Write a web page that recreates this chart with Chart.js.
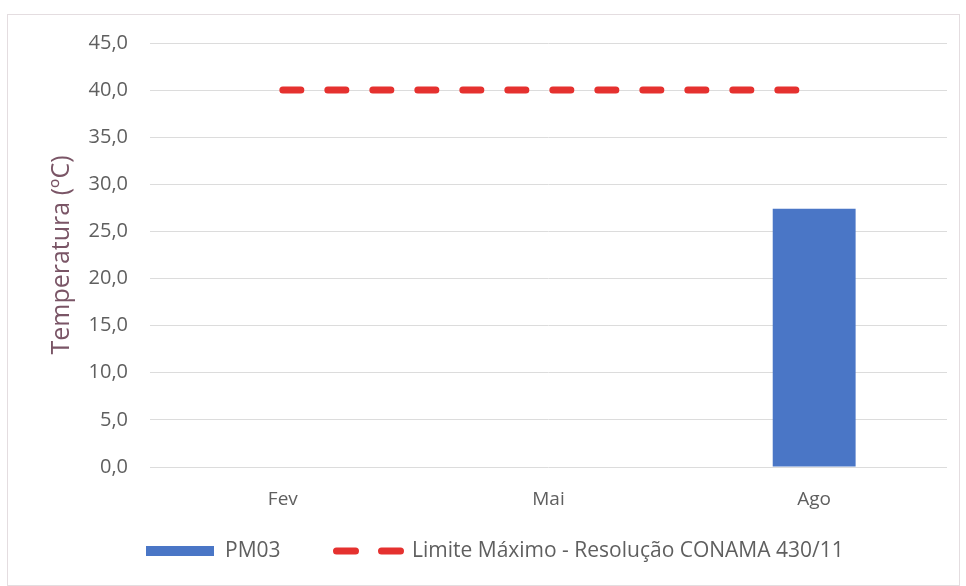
<!DOCTYPE html>
<html lang="pt">
<head>
<meta charset="utf-8">
<title>Temperatura PM03</title>
<script src="https://cdn.jsdelivr.net/npm/chart.js@4/dist/chart.umd.min.js"></script>
<style>
  body { margin: 0; background: #fff; }
  #moldura {
    position: absolute;
    left: 7px;
    top: 14px;
    width: 951px;
    height: 570px;
    border: 1px solid #e4dde0;
  }
</style>
</head>
<body>
<div id="moldura"><canvas id="grafico-temperatura"></canvas></div>
<script>
const meses = ["Fev", "Mai", "Ago"];
const temperaturaPM03 = [null, null, 27.4];
const limiteMaximo = [40, 40, 40];
const rotulosY = ["0,0", "5,0", "10,0", "15,0", "20,0", "25,0", "30,0", "35,0", "40,0", "45,0"];

const corTexto = "#5f5f5f";
const corBarra = "#4a76c6";
const corLimite = "#e5312f";
const fonte = "'Open Sans', Lato, sans-serif";

// legenda desenhada à mão para ficar no mesmo lugar que no original
const legendaManual = {
  id: "legendaManual",
  afterDraw(chart) {
    const ctx = chart.ctx;
    const y = 536;
    ctx.save();
    ctx.font = "21px " + fonte;
    ctx.textBaseline = "middle";

    const barra = chart.data.datasets[0];
    ctx.fillStyle = barra.backgroundColor;
    ctx.fillRect(138, y - 5, 68, 10);
    ctx.fillStyle = corTexto;
    ctx.fillText(barra.label, 217, y);

    const linha = chart.data.datasets[1];
    ctx.strokeStyle = linha.borderColor;
    ctx.lineWidth = 7;
    ctx.lineCap = "round";
    ctx.setLineDash([19, 26]);
    ctx.beginPath();
    ctx.moveTo(328.5, y);
    ctx.lineTo(393.5, y);
    ctx.stroke();
    ctx.setLineDash([]);
    ctx.fillText(linha.label, 404, y);
    ctx.restore();
  },
};

new Chart(document.getElementById("grafico-temperatura"), {
  type: "bar",
  data: {
    labels: meses,
    datasets: [
      {
        label: "PM03",
        data: temperaturaPM03,
        backgroundColor: corBarra,
        barPercentage: 0.312,
        categoryPercentage: 1,
        order: 2,
      },
      {
        type: "line",
        label: "Limite Máximo - Resolução CONAMA 430/11",
        data: limiteMaximo,
        borderColor: corLimite,
        backgroundColor: corLimite,
        borderWidth: 7,
        borderDash: [18, 27],
        borderCapStyle: "round",
        pointRadius: 0,
        fill: false,
        order: 1,
      },
    ],
  },
  options: {
    responsive: true,
    maintainAspectRatio: false,
    animation: false,
    layout: { padding: { top: 28, right: 12, bottom: 68, left: 0 } },
    plugins: {
      legend: { display: false },
      tooltip: { enabled: false },
    },
    scales: {
      x: {
        afterFit: (escala) => { escala.height = 50; },
        grid: { display: false, drawTicks: false },
        border: { display: false },
        ticks: {
          color: corTexto,
          padding: 21,
          font: { family: fonte, size: 19 },
        },
      },
      y: {
        min: 0,
        max: 45,
        afterFit: (escala) => {
          escala.width = 142;
          escala.paddingTop = 0;
          escala.paddingBottom = 0;
        },
        border: { display: false },
        grid: { color: "#dcdcdc", lineWidth: 1, drawTicks: false },
        ticks: {
          stepSize: 5,
          padding: 22,
          color: corTexto,
          font: { family: fonte, size: 20 },
          callback: (valor, i) => rotulosY[i],
        },
        title: {
          display: true,
          text: "Temperatura (ºC)",
          color: "#7a5566",
          padding: { top: 39, bottom: 0 },
          font: { family: fonte, size: 25 },
        },
      },
    },
  },
  plugins: [legendaManual],
});
</script>
</body>
</html>
